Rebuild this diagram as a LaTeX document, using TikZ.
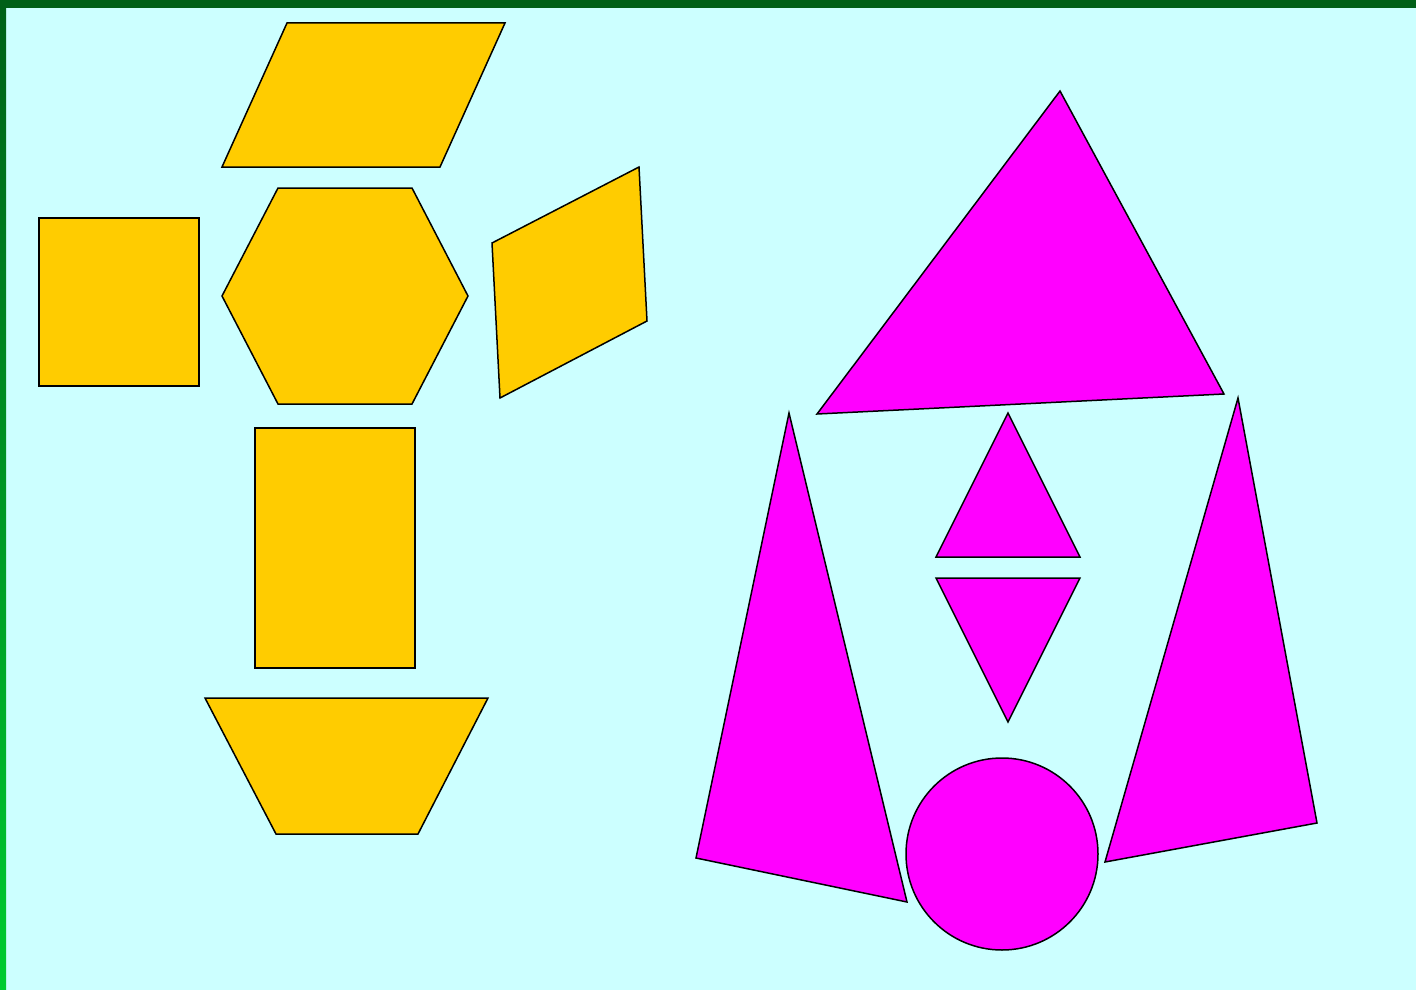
\documentclass[tikz,border=0pt]{standalone}
\definecolor{bgc}{HTML}{CCFFFF}
\definecolor{topbar}{HTML}{006018}
\definecolor{barlow}{HTML}{00CC30}
\definecolor{yel}{HTML}{FFCC00}
\definecolor{mag}{HTML}{FF00FF}
\begin{document}
\begin{tikzpicture}[x=1pt,y=-1pt,
  yshape/.style={fill=yel,draw=black,line width=1.5pt,line join=miter},
  mshape/.style={fill=mag,draw=black,line width=1.5pt,line join=miter}]
\useasboundingbox (0,0) rectangle (1416,990);
\fill[bgc] (0,0) rectangle (1416,990);
\shade[top color=topbar,bottom color=barlow] (0,0) rectangle (6,990);
\fill[topbar] (0,0) rectangle (1416,8);
% yellow shapes
\draw[yshape] (287,23) -- (505,23) -- (440,167) -- (222,167) -- cycle;
\draw[yshape] (39,218) rectangle (199,386);
\draw[yshape] (278,188) -- (412,188) -- (468,296) -- (412,404) -- (278,404) -- (222,296) -- cycle;
\draw[yshape] (492,243) -- (639,167) -- (647,321) -- (500,398) -- cycle;
\draw[yshape] (255,428) rectangle (415,668);
\draw[yshape] (205,698) -- (488,698) -- (418,834) -- (276,834) -- cycle;
% magenta shapes
\draw[mshape] (1060,91) -- (1224,394) -- (817,414) -- cycle;
\draw[mshape] (1008,413) -- (1080,557) -- (936,557) -- cycle;
\draw[mshape] (936,578) -- (1080,578) -- (1008,722) -- cycle;
\draw[mshape] (789,413) -- (907,902) -- (696,858) -- cycle;
\draw[mshape] (1238,398) -- (1317,823) -- (1105,862) -- cycle;
\draw[mshape] (1002,854) circle (96);
\end{tikzpicture}
\end{document}
